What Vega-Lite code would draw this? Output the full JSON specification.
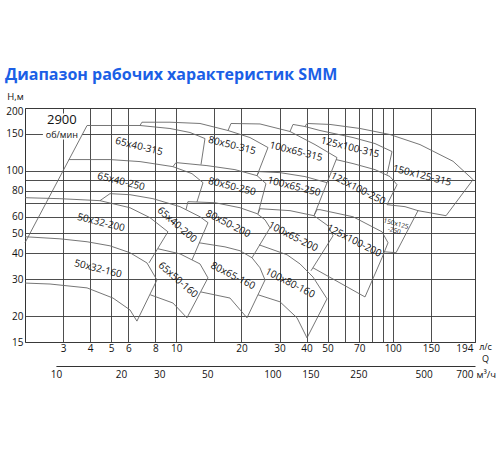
{
 "$schema": "https://vega.github.io/schema/vega-lite/v6.json",
 "width": 450,
 "height": 234,
 "autosize": {"type": "none"},
 "padding": {"left": 25, "top": 108, "right": 25, "bottom": 108},
 "background": "white",
 "title": {"text": "Диапазон рабочих характеристик SMM", "anchor": "start", "frame": "group", "dx": -20, "offset": 8, "font": "Open Sans", "fontSize": 16, "fontWeight": 700, "color": "#1b5fe6"},
 "datasets": {
  "lines": [
   {"id":"a","i":0,"q":2.0,"h":45.0},{"id":"a","i":1,"q":3.87,"h":164.8},
   {"id":"b","i":0,"q":3.87,"h":164.8},{"id":"b","i":1,"q":6.8,"h":164.8},{"id":"b","i":2,"q":9.35,"h":159.4},{"id":"b","i":3,"q":11.57,"h":152.5},{"id":"b","i":4,"q":13.57,"h":142.6},{"id":"b","i":5,"q":13.01,"h":106.9},
   {"id":"c","i":0,"q":6.8,"h":164.8},{"id":"c","i":1,"q":6.94,"h":170.9},{"id":"c","i":2,"q":9.35,"h":170.9},{"id":"c","i":3,"q":12.87,"h":168.5},{"id":"c","i":4,"q":17.34,"h":155.9},{"id":"c","i":5,"q":21.9,"h":144.2},{"id":"c","i":6,"q":26.53,"h":129.1},{"id":"c","i":7,"q":23.61,"h":94.6},
   {"id":"d","i":0,"q":17.34,"h":155.9},{"id":"d","i":1,"q":17.9,"h":168.5},{"id":"d","i":2,"q":24.37,"h":167.6},{"id":"d","i":3,"q":33.53,"h":154.2},{"id":"d","i":4,"q":43.75,"h":133.4},{"id":"d","i":5,"q":55.29,"h":115.5},{"id":"d","i":6,"q":49.72,"h":87.5},
   {"id":"e","i":0,"q":33.53,"h":154.2},{"id":"e","i":1,"q":34.62,"h":166.7},{"id":"e","i":2,"q":39.33,"h":162.9},{"id":"e","i":3,"q":46.14,"h":155.9},{"id":"e","i":4,"q":65.56,"h":144.2},{"id":"e","i":5,"q":82.84,"h":134.9},{"id":"e","i":6,"q":99.26,"h":123.5},{"id":"e","i":7,"q":94.12,"h":95.7},
   {"id":"f","i":0,"q":39.33,"h":162.9},{"id":"f","i":1,"q":40.18,"h":168.5},{"id":"f","i":2,"q":51.33,"h":166.7},{"id":"f","i":3,"q":70.63,"h":159.4},{"id":"f","i":4,"q":97.16,"h":149.1},{"id":"f","i":5,"q":133.7,"h":133.4},{"id":"f","i":6,"q":190.0,"h":110.9},{"id":"f","i":7,"q":235.0,"h":90.5},{"id":"f","i":8,"q":176.4,"h":60.7},{"id":"f","i":9,"q":130.9,"h":64.2},
   {"id":"g","i":0,"q":3.19,"h":113.0},{"id":"g","i":1,"q":4.94,"h":113.0},{"id":"g","i":2,"q":6.8,"h":110.5},{"id":"g","i":3,"q":9.65,"h":104.5},{"id":"g","i":4,"q":11.82,"h":96.7},{"id":"g","i":5,"q":13.29,"h":87.5},{"id":"g","i":6,"q":12.46,"h":70.7},
   {"id":"h","i":0,"q":9.65,"h":104.5},{"id":"h","i":1,"q":9.97,"h":109.3},{"id":"h","i":2,"q":13.86,"h":105.7},{"id":"h","i":3,"q":18.67,"h":101.1},{"id":"h","i":4,"q":23.61,"h":94.6},{"id":"h","i":5,"q":25.97,"h":86.6},{"id":"h","i":6,"q":23.86,"h":62.1},
   {"id":"i","i":0,"q":23.61,"h":94.6},{"id":"i","i":1,"q":24.11,"h":98.9},{"id":"i","i":2,"q":30.15,"h":97.8},{"id":"i","i":3,"q":39.33,"h":93.6},{"id":"i","i":4,"q":49.72,"h":87.5},{"id":"i","i":5,"q":43.28,"h":60.7},
   {"id":"j","i":0,"q":54.7,"h":113.0},{"id":"j","i":1,"q":65.56,"h":108.1},{"id":"j","i":2,"q":82.84,"h":101.1},{"id":"j","i":3,"q":97.16,"h":93.6},{"id":"j","i":4,"q":104.7,"h":85.6},{"id":"j","i":5,"q":94.12,"h":68.6},
   {"id":"k","i":0,"q":94.12,"h":68.6},{"id":"k","i":1,"q":114.0,"h":67.1},{"id":"k","i":2,"q":130.9,"h":64.2},{"id":"k","i":3,"q":103.6,"h":40.3},{"id":"k","i":4,"q":92.12,"h":40.7},
   {"id":"l","i":0,"q":2.0,"h":74.1},{"id":"l","i":1,"q":2.9,"h":73.3},{"id":"l","i":2,"q":4.44,"h":71.7},{"id":"l","i":3,"q":6.11,"h":66.3},{"id":"l","i":4,"q":7.56,"h":59.4},{"id":"l","i":5,"q":9.15,"h":50.8},{"id":"l","i":6,"q":7.48,"h":36.0},
   {"id":"m","i":0,"q":4.44,"h":71.7},{"id":"m","i":1,"q":4.94,"h":77.5},{"id":"m","i":2,"q":6.11,"h":76.6},{"id":"m","i":3,"q":7.8,"h":73.3},{"id":"m","i":4,"q":10.4,"h":67.1},{"id":"m","i":5,"q":12.87,"h":60.0},{"id":"m","i":6,"q":14.01,"h":56.2},{"id":"m","i":7,"q":11.82,"h":37.2},
   {"id":"n","i":0,"q":11.09,"h":64.9},{"id":"n","i":1,"q":11.32,"h":70.9},{"id":"n","i":2,"q":15.1,"h":70.1},{"id":"n","i":3,"q":19.7,"h":66.3},{"id":"n","i":4,"q":23.61,"h":62.1},{"id":"n","i":5,"q":25.7,"h":58.0},{"id":"n","i":6,"q":27.1,"h":53.1},{"id":"n","i":7,"q":22.38,"h":38.1},
   {"id":"o","i":0,"q":23.86,"h":62.1},{"id":"o","i":1,"q":24.37,"h":65.6},{"id":"o","i":2,"q":33.53,"h":64.2},{"id":"o","i":3,"q":43.28,"h":60.7},{"id":"o","i":4,"q":50.25,"h":54.3},{"id":"o","i":5,"q":53.0,"h":48.6},{"id":"o","i":6,"q":41.92,"h":33.0},
   {"id":"p","i":0,"q":43.28,"h":60.7},{"id":"p","i":1,"q":44.69,"h":64.9},{"id":"p","i":2,"q":46.14,"h":64.9},{"id":"p","i":3,"q":65.56,"h":60.0},{"id":"p","i":4,"q":89.24,"h":50.8},{"id":"p","i":5,"q":95.13,"h":45.0},{"id":"p","i":6,"q":89.24,"h":38.1},{"id":"p","i":7,"q":74.47,"h":24.7},{"id":"p","i":8,"q":42.82,"h":34.1},
   {"id":"q","i":0,"q":2.0,"h":48.1},{"id":"q","i":1,"q":2.9,"h":47.0},{"id":"q","i":2,"q":3.87,"h":45.5},{"id":"q","i":3,"q":4.94,"h":43.5},{"id":"q","i":4,"q":6.11,"h":40.3},{"id":"q","i":5,"q":7.32,"h":36.0},{"id":"q","i":6,"q":8.14,"h":29.8},{"id":"q","i":7,"q":6.58,"h":18.9},{"id":"q","i":8,"q":6.11,"h":21.4},{"id":"q","i":9,"q":5.1,"h":24.4},{"id":"q","i":10,"q":3.87,"h":27.3},{"id":"q","i":11,"q":2.61,"h":28.5},{"id":"q","i":12,"q":2.0,"h":28.8},
   {"id":"r","i":0,"q":8.23,"h":42.1},{"id":"r","i":1,"q":10.4,"h":39.8},{"id":"r","i":2,"q":12.87,"h":35.6},{"id":"r","i":3,"q":14.01,"h":30.5},{"id":"r","i":4,"q":11.2,"h":19.6},{"id":"r","i":5,"q":9.65,"h":23.1},{"id":"r","i":6,"q":7.58,"h":25.3},
   {"id":"s","i":0,"q":12.73,"h":45.0},{"id":"s","i":1,"q":16.79,"h":43.0},{"id":"s","i":2,"q":19.7,"h":41.2},{"id":"s","i":3,"q":22.38,"h":38.1},{"id":"s","i":4,"q":24.37,"h":34.1},{"id":"s","i":5,"q":25.7,"h":29.8},{"id":"s","i":6,"q":21.22,"h":19.6},{"id":"s","i":7,"q":17.71,"h":24.4},{"id":"s","i":8,"q":13.01,"h":26.1},
   {"id":"t","i":0,"q":24.11,"h":44.0},{"id":"t","i":1,"q":32.48,"h":39.4},{"id":"t","i":2,"q":37.3,"h":35.6},{"id":"t","i":3,"q":42.82,"h":30.8},{"id":"t","i":4,"q":49.72,"h":24.2},{"id":"t","i":5,"q":40.18,"h":15.7},{"id":"t","i":6,"q":36.13,"h":19.6},{"id":"t","i":7,"q":30.15,"h":23.4},{"id":"t","i":8,"q":23.86,"h":25.3}
  ],
  "labFlat": [
   {"label":"65x40-315","q":6.72,"h":130.5},
   {"label":"80x50-315","q":18.09,"h":132.0},
   {"label":"100x65-315","q":35.75,"h":123.5},
   {"label":"125x100-315","q":63.5,"h":129.1},
   {"label":"150x125-315","q":136.6,"h":94.6},
   {"label":"65x40-250","q":5.56,"h":88.5},
   {"label":"80x50-250","q":18.09,"h":83.7},
   {"label":"100x65-250","q":34.99,"h":83.7},
   {"label":"50x32-200","q":4.49,"h":56.2},
   {"label":"50x32-160","q":4.35,"h":33.7}
  ],
  "labMid": [
   {"label":"125x100-250","q":69.13,"h":81.9},
   {"label":"80x50-200","q":17.34,"h":55.5},
   {"label":"100x65-200","q":34.62,"h":48.1},
   {"label":"125x100-200","q":66.2,"h":46.0},
   {"label":"80x65-160","q":18.28,"h":31.2},
   {"label":"100x80-160","q":33.53,"h":28.8}
  ],
  "labSteep": [
   {"label":"65x40-200","q":10.07,"h":54.9},
   {"label":"65x50-160","q":10.18,"h":29.8}
  ],
  "labSmall": [
   {"label":"150x125\n-250","q":103.6,"h":55.5}
  ],
  "rpm": [
   {"t":"2900","q":2.96,"h":175.0},
   {"t":"об/мин","q":2.96,"h":148.5}
  ],
  "bg": [
   {"q":2.42,"q2":3.665,"h":141.1,"h2":188.2}
  ],
  "m3": [
   {"m":10},{"m":864}
  ]
 },
 "layer": [
  {
   "encoding": {
    "x": {"field": "q", "type": "quantitative",
     "scale": {"type": "log", "domain": [2, 240], "nice": false},
     "axis": {"values": [3,4,5,6,8,10,15,20,30,40,50,60,70,80,90,100,150,240],
      "labelExpr": "datum.value == 240 ? '194' : ((datum.value == 15 || datum.value == 60 || datum.value == 80 || datum.value == 90) ? '' : format(datum.value, 'd'))",
      "labelAlign": {"condition": {"test": "datum.value == 240", "value": "right"}, "value": "center"},
      "labelOffset": {"condition": {"test": "datum.value == 240", "value": -2}, "value": 0},
      "labelPadding": 1,
      "title": ["л/с", "Q"], "titleX": 460, "titleY": 0, "titleAlign": "center", "titleBaseline": "top", "titleLineHeight": 12.5, "titleFontSize": 9}},
    "y": {"field": "h", "type": "quantitative",
     "scale": {"type": "log", "domain": [15, 200], "nice": false},
     "axis": {"values": [15,20,30,40,50,60,70,80,90,100,150,200],
      "labelExpr": "(datum.value == 70 || datum.value == 90) ? '' : format(datum.value, 'd')",
      "labelOffset": {"condition": {"test": "datum.value == 200", "value": 3}, "value": 0},
      "labelPadding": 2,
      "title": "Н,м", "titleAngle": 0, "titleAlign": "center", "titleBaseline": "middle", "titleX": -10, "titleY": -12, "titleFontSize": 9.5}}
   },
   "layer": [
    {"data": {"name": "bg"}, "mark": {"type": "rect", "fill": "white", "stroke": null}, "encoding": {"x2": {"field": "q2"}, "y2": {"field": "h2"}}},
    {"data": {"name": "lines"}, "mark": {"type": "line", "stroke": "#666666", "strokeWidth": 0.9}, "encoding": {"detail": {"field": "id"}, "order": {"field": "i", "type": "quantitative"}}},
    {"data": {"name": "labFlat"}, "mark": {"type": "text", "angle": 14, "font": "Open Sans", "fontSize": 10, "fill": "#111"}, "encoding": {"text": {"field": "label"}}},
    {"data": {"name": "labMid"}, "mark": {"type": "text", "angle": 27, "font": "Open Sans", "fontSize": 10, "fill": "#111"}, "encoding": {"text": {"field": "label"}}},
    {"data": {"name": "labSteep"}, "mark": {"type": "text", "angle": 41, "font": "Open Sans", "fontSize": 10, "fill": "#111"}, "encoding": {"text": {"field": "label"}}},
    {"data": {"name": "labSmall"}, "mark": {"type": "text", "angle": 15, "font": "Open Sans", "fontSize": 6.5, "lineBreak": "\n", "lineHeight": 7, "fill": "#111"}, "encoding": {"text": {"field": "label"}}},
    {"data": {"name": "rpm"}, "transform": [{"filter": "datum.t == '2900'"}], "mark": {"type": "text", "font": "Open Sans", "fontSize": 13, "fill": "#111"}, "encoding": {"text": {"field": "t"}}},
    {"data": {"name": "rpm"}, "transform": [{"filter": "datum.t != '2900'"}], "mark": {"type": "text", "font": "Open Sans", "fontSize": 9, "fill": "#111"}, "encoding": {"text": {"field": "t"}}}
   ]
  },
  {
   "data": {"name": "m3"},
   "mark": {"type": "point", "opacity": 0},
   "encoding": {
    "x": {"field": "m", "type": "quantitative",
     "scale": {"type": "log", "domain": [10, 864], "range": [30.9, 450], "nice": false},
     "axis": {"orient": "bottom", "offset": 24, "grid": false, "domain": true, "domainColor": "#333", "domainWidth": 1,
      "values": [10,20,30,50,100,150,250,500,864],
      "labelExpr": "datum.value == 864 ? '700' : format(datum.value, 'd')",
      "labelAlign": {"condition": {"test": "datum.value == 864", "value": "right"}, "value": "center"},
      "labelOffset": {"condition": {"test": "datum.value == 864", "value": -2}, "value": 0},
      "labelPadding": 3,
      "title": "м³/ч", "titleX": 451, "titleY": 8, "titleAlign": "left", "titleBaseline": "middle", "titleFontSize": 9.5}}
   }
  }
 ],
 "resolve": {"scale": {"x": "independent"}, "axis": {"x": "independent"}},
 "config": {
  "view": {"stroke": "#333", "strokeWidth": 1},
  "axis": {"labelFont": "Open Sans", "labelFontSize": 10, "labelColor": "#111", "titleFont": "Open Sans", "titleFontWeight": "normal", "titleColor": "#111", "ticks": false, "domain": false, "gridColor": "#3a3a3a", "gridWidth": 0.9, "gridOpacity": 1}
 }
}
